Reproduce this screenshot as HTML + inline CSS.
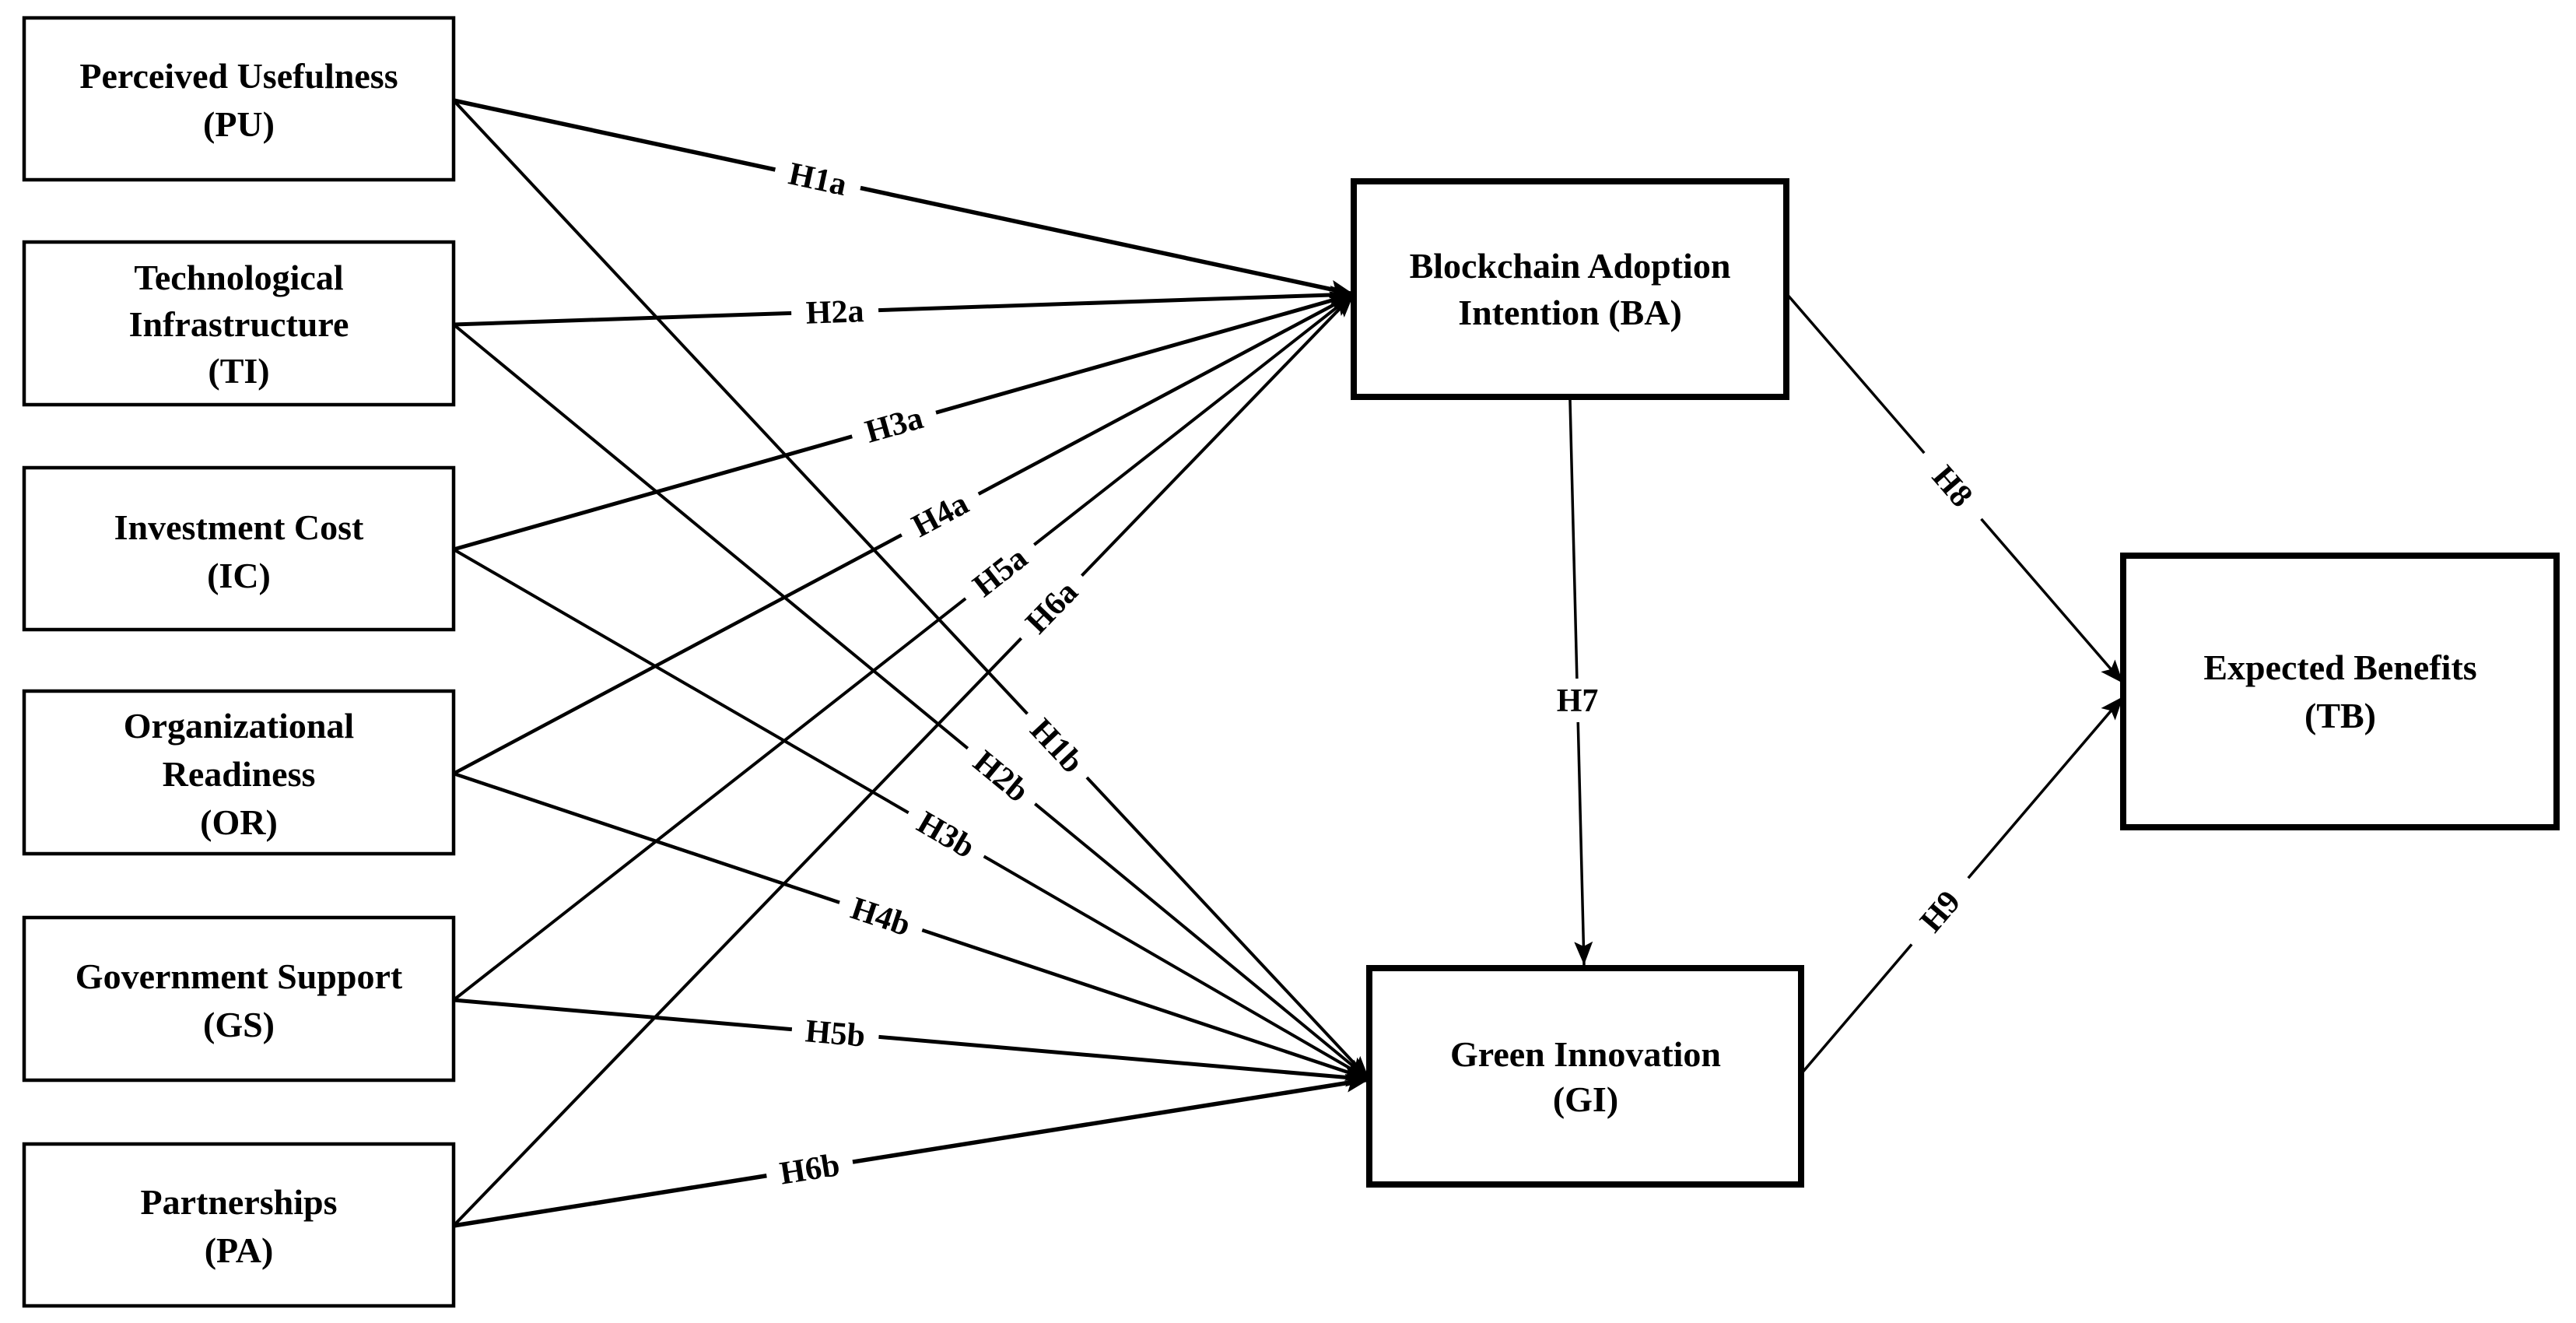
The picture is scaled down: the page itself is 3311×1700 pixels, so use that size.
<!DOCTYPE html>
<html><head><meta charset="utf-8"><style>
html,body{margin:0;padding:0;background:#fff;}
svg{display:block;}
text{font-family:"Liberation Serif",serif;font-weight:bold;fill:#000;}
</style></head><body>
<svg id="s" width="3311" height="1700" xmlns="http://www.w3.org/2000/svg">
<defs>
<marker id="ah" viewBox="0 0 10 10" refX="10" refY="5" markerWidth="30" markerHeight="24" markerUnits="userSpaceOnUse" orient="auto" preserveAspectRatio="none"><path d="M0,0 L10,5 L0,10 L2,5 z" fill="#000"/></marker></defs>
<g id="lines"></g>
<g id="boxes" stroke="#000" fill="#fff">
<rect x="31" y="23" width="552" height="208" stroke-width="4.5"/>
<rect x="31" y="311" width="552" height="209" stroke-width="4.5"/>
<rect x="31" y="601" width="552" height="208" stroke-width="4.5"/>
<rect x="31" y="888" width="552" height="209" stroke-width="4.5"/>
<rect x="31" y="1179" width="552" height="209" stroke-width="4.5"/>
<rect x="31" y="1470" width="552" height="208" stroke-width="4.5"/>
<rect x="1740" y="233" width="556" height="277" stroke-width="8"/>
<rect x="1760" y="1244" width="555" height="278" stroke-width="8"/>
<rect x="2729" y="714" width="557" height="349" stroke-width="8"/>
</g>
<g font-size="46" text-anchor="middle">
<text x="307" y="113">Perceived Usefulness</text><text x="307" y="175">(PU)</text>
<text x="307" y="372">Technological</text><text x="307" y="432">Infrastructure</text><text x="307" y="492">(TI)</text>
<text x="307" y="693">Investment Cost</text><text x="307" y="755">(IC)</text>
<text x="307" y="948">Organizational</text><text x="307" y="1010">Readiness</text><text x="307" y="1072">(OR)</text>
<text x="307" y="1270">Government Support</text><text x="307" y="1332">(GS)</text>
<text x="307" y="1560">Partnerships</text><text x="307" y="1622">(PA)</text>
<text x="2018" y="357">Blockchain Adoption</text><text x="2018" y="417">Intention (BA)</text>
<text x="2038" y="1370">Green Innovation</text><text x="2038" y="1428">(GI)</text>
<text x="3008" y="873">Expected Benefits</text><text x="3008" y="935">(TB)</text>
</g>
</svg>
<script>
var NS="http://www.w3.org/2000/svg",g=document.getElementById("lines");
function el(t,a,txt){var e=document.createElementNS(NS,t);for(var k in a)e.setAttribute(k,a[k]);if(txt)e.textContent=txt;return e;}
var BA=[1740,378],GI=[1760,1387];
var src={PU:[583,129],TI:[583,417],IC:[583,706],OR:[583,994],GS:[583,1285],PA:[583,1575]};
var L=[
["PU",BA,"H1a",1052,226,5.5],["TI",BA,"H2a",1073,397,5],["IC",BA,"H3a",1149,545,5],["OR",BA,"H4a",1204,653,4.5],["GS",BA,"H5a",1284,733,4],["PA",BA,"H6a",1366,794,4],
["PU",GI,"H1b",1362,955,4],["TI",GI,"H2b",1284,1001,4],["IC",GI,"H3b",1210,1083,4],["OR",GI,"H4b",1134,1172,4.5],["GS",GI,"H5b",1073,1335,5],["PA",GI,"H6b",1041,1504,5.5]];
var items=[];
L.forEach(function(l){var a=src[l[0]];items.push([a[0],a[1],l[1][0],l[1][1],l[2],l[3],l[4],l[5]]);});
items.push([2018,514,2036,1240,"H7",2026,900,3.5]);
items.push([2296,377,2729,878,"H8",2507,627,3.5]);
items.push([2315,1380,2729,895,"H9",2510,1185,3.5]);
items.forEach(function(it){
 g.appendChild(el("line",{x1:it[0],y1:it[1],x2:it[2],y2:it[3],stroke:"#000","stroke-width":it[7],"marker-end":"url(#ah)"}));
});
items.forEach(function(it){
 var x1=it[0],y1=it[1],x2=it[2],y2=it[3],dx=x2-x1,dy=y2-y1,len=Math.hypot(dx,dy);
 var t=((it[5]-x1)*dx+(it[6]-y1)*dy)/(len*len);var px=x1+t*dx,py=y1+t*dy;
 var ang=Math.atan2(dy,dx)*180/Math.PI;if(ang>90)ang-=180;if(ang<-90)ang+=180;
 if(it[4]=="H7")ang=0;
 var gg=el("g",{transform:"translate("+px+","+py+") rotate("+ang+")"});
 gg.appendChild(el("rect",{x:-56,y:-28,width:112,height:56,fill:"#fff"}));
 gg.appendChild(el("text",{x:0,y:14,"font-size":42,"text-anchor":"middle"},it[4]));
 g.appendChild(gg);
});
</script>
</body></html>
